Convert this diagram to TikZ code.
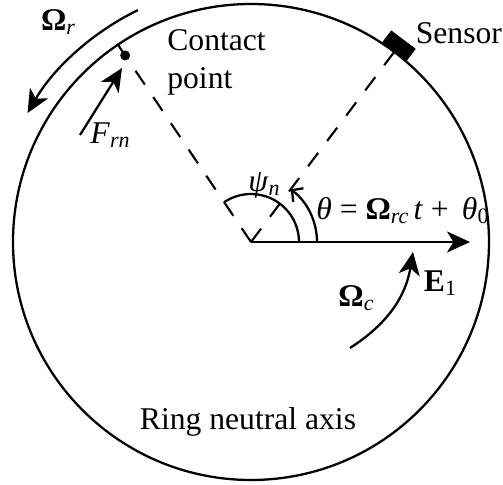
\documentclass[tikz,border=0pt]{standalone}
\usepackage{fontspec}
\setmainfont{Liberation Serif}
\usepackage{tikz}
\usetikzlibrary{arrows.meta}
\newcommand\lowtxt[1]{\raisebox{-2.2pt}{\fontsize{12.5}{12.5}\selectfont #1}}

\begin{document}
\begin{tikzpicture}[
  ring/.style={line width=1.3pt},
  ray/.style={line width=1.2pt, dash pattern=on 9.5pt off 8.5pt},
  arrow/.style={-{Stealth[length=4.6mm, width=4.2mm, inset=1.3mm]}, line width=1.3pt},
  anglearc/.style={line width=1.3pt},
  lab/.style={font=\fontsize{18}{22}\selectfont, inner sep=0pt}
]
\useasboundingbox (-5.02,-4.86) rectangle (5.04,4.84);
\coordinate (O) at (0,0);
\draw[ring] (O) circle (4.76);
% sensor and contact point on the ring
\node[draw, fill=black, minimum width=0.6cm, minimum height=0.3cm, inner sep=0pt, rotate=-37] (sensor) at (53:4.91) {};
\node[circle, fill=black, inner sep=0pt, minimum size=0.2cm] (cp) at (124:4.5) {};
\coordinate (rim) at (124:4.76);
\draw[ray] (O) -- (rim);
\draw[ray] (O) -- (sensor.south);
% rotations and force
\coordinate (wr0) at (116:5.16);
\draw[arrow] (wr0) arc[start angle=116, end angle=150, radius=5.16];
\coordinate (ft) at (-3.42,2.14);
\coordinate (fh) at (-2.58,3.48);
\draw[arrow] (ft) -- (fh);
\coordinate (e1) at (4.38,0);
\draw[arrow] (O) -- (e1);
\coordinate (wc0) at (1.98,-2.12);
\coordinate (wc1) at (3.24,-0.2);
\draw[arrow] (wc0) to[bend right=24] (wc1);
% angles
\draw[anglearc] (0.96,0) arc[start angle=0, end angle=124, radius=0.96];
\draw[anglearc, -{Straight Barb[length=1.6mm, width=3.4mm]}] (1.32,0) arc[start angle=0, end angle=53, radius=1.32];
% labels
\node[lab] (wrlab) at (-3.86,4.4) {\textbf{Ω}\lowtxt{\textit{r}}};
\node[lab, align=left, anchor=west] (cplab) at (-1.68,3.59) {Contact\\point};
\node[lab, anchor=west] (senlab) at (3.29,4.18) {Sensor};
\node[lab] (frlab) at (-2.82,2.14) {\textit{F}\lowtxt{\textit{rn}}};
\node[lab] (psilab) at (0.26,1.14) {\textit{ψ}\lowtxt{\textit{n}}};
\node[lab, anchor=base west] (thlab) at (1.3,0.44) {\textit{θ} = \textbf{Ω}\lowtxt{\textit{rc}}\,\textit{t} + \,\textit{θ}\lowtxt{0}};
\node[lab] (e1lab) at (3.78,-0.82) {\textbf{E}\lowtxt{1}};
\node[lab] (wclab) at (2.1,-1.12) {\textbf{Ω}\lowtxt{\textit{c}}};
\node[lab, anchor=base] (axlab) at (-0.06,-3.76) {Ring neutral axis};
\end{tikzpicture}
\end{document}
